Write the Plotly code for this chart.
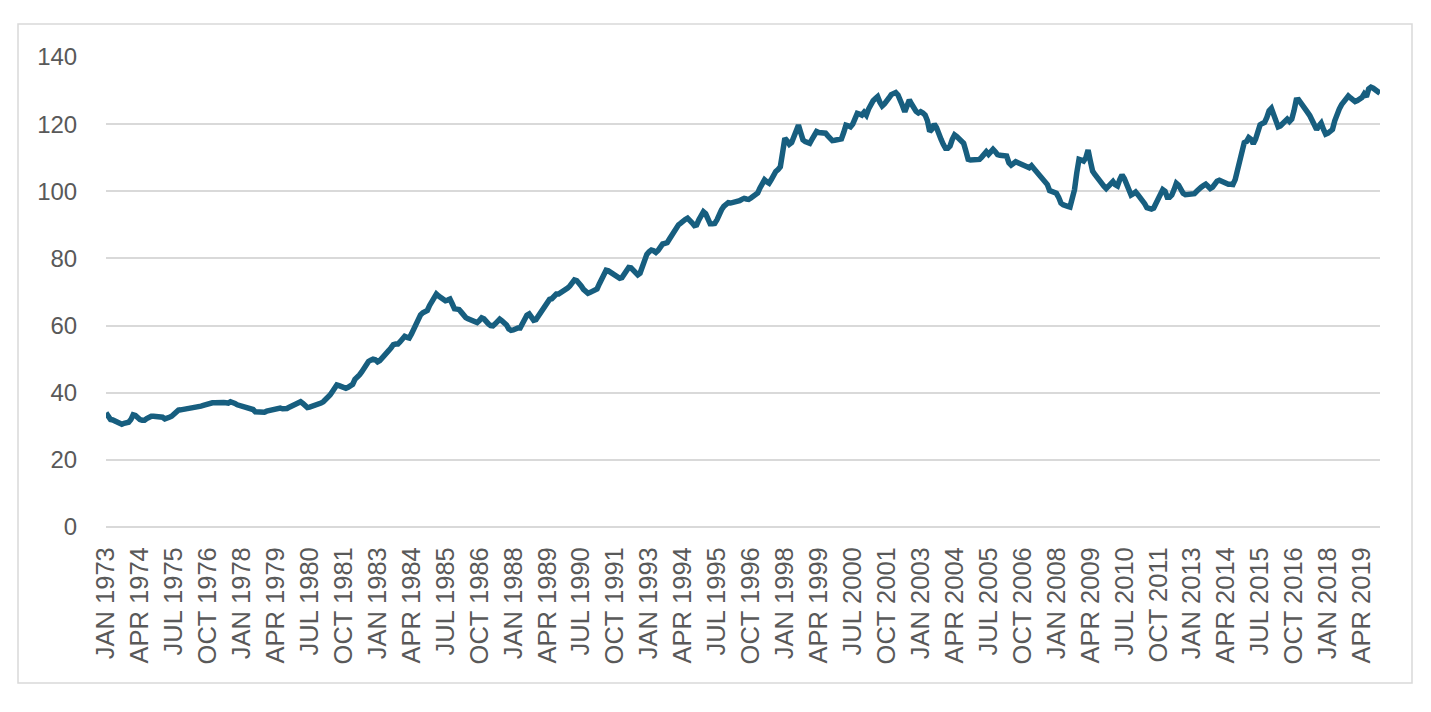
import plotly.graph_objects as go

MONTHS = ["JAN", "FEB", "MAR", "APR", "MAY", "JUN", "JUL", "AUG", "SEP", "OCT", "NOV", "DEC"]
YEARS = list(range(1973, 2020))

# Monthly index values, Jan 1973 - Dec 2019 (one row per year)
values = [
    34.0, 32.8, 32.0, 31.9, 31.6, 31.2, 30.8, 30.6, 30.9, 31.1, 31.2, 32.0,  # 1973
    33.4, 33.2, 32.5, 32.0, 31.8, 31.8, 32.3, 32.9, 33.0, 33.0, 33.0, 33.0,  # 1974
    33.0, 32.7, 32.2, 32.3, 32.7, 33.0, 33.6, 34.3, 34.8, 34.9, 35.0, 35.0,  # 1975
    35.0, 35.1, 35.2, 35.5, 35.7, 35.9, 36.0, 36.2, 36.5, 36.8, 37.0, 37.0,  # 1976
    37.0, 37.1, 37.1, 37.0, 37.1, 37.0, 36.9, 37.3, 37.2, 36.8, 36.4, 36.2,  # 1977
    36.0, 35.9, 35.8, 35.7, 35.6, 35.0, 34.3, 34.2, 34.0, 33.9, 34.2, 34.5,  # 1978
    34.7, 34.9, 35.0, 35.2, 35.4, 35.4, 35.2, 35.1, 35.3, 35.7, 36.0, 36.1,  # 1979
    36.3, 36.8, 37.3, 36.8, 35.9, 35.6, 35.7, 35.9, 36.0, 36.1, 36.5, 36.9,  # 1980
    37.3, 37.8, 38.5, 39.3, 40.3, 41.3, 42.3, 42.1, 41.8, 41.4, 41.3, 41.6,  # 1981
    42.0, 42.5, 44.0, 45.0, 45.3, 46.2, 47.5, 48.8, 49.3, 49.7, 50.0, 49.8,  # 1982
    49.2, 49.6, 50.5, 51.3, 51.9, 52.6, 53.4, 54.3, 54.5, 54.5, 55.2, 56.0,  # 1983
    56.8, 56.5, 56.3, 57.5, 59.2, 60.7, 62.0, 63.2, 63.8, 64.2, 64.5, 66.0,  # 1984
    67.3, 68.5, 69.4, 68.8, 68.3, 67.9, 67.4, 67.6, 67.9, 66.5, 65.0, 64.9,  # 1985
    64.8, 64.0, 62.9, 62.4, 62.0, 61.8, 61.4, 61.0, 60.9, 61.5, 62.3, 62.0,  # 1986
    61.0, 60.5, 60.0, 59.9, 60.5, 61.5, 61.9, 61.4, 61.0, 60.2, 59.0, 58.6,  # 1987
    58.7, 59.2, 59.3, 59.3, 60.5, 62.0, 63.1, 63.5, 62.8, 61.6, 61.8, 62.8,  # 1988
    63.5, 64.3, 65.1, 66.2, 67.8, 68.0, 68.8, 69.4, 69.4, 69.8, 70.1, 70.9,  # 1989
    71.2, 71.8, 72.8, 73.6, 73.4, 72.8, 71.8, 70.8, 70.0, 69.6, 69.9, 70.4,  # 1990
    70.6, 70.9, 72.4, 74.1, 75.5, 76.5, 76.3, 75.8, 75.4, 75.0, 74.5, 74.1,  # 1991
    74.3, 75.3, 76.5, 77.3, 77.2, 76.4, 75.6, 75.1, 75.6, 77.5, 80.0, 81.2,  # 1992
    82.0, 82.5, 82.3, 81.8, 82.4, 83.6, 84.3, 84.5, 84.7, 85.8, 87.0, 87.8,  # 1993
    88.8, 90.0, 90.5, 91.2, 91.6, 92.0, 91.5, 90.6, 89.8, 90.0, 91.5, 93.0,  # 1994
    93.9, 93.3, 92.0, 90.3, 90.3, 90.4, 91.5, 93.4, 94.5, 95.5, 96.3, 96.6,  # 1995
    96.5, 96.6, 96.8, 96.9, 97.2, 97.6, 97.9, 97.7, 97.6, 98.0, 98.5, 98.6,  # 1996
    99.5, 101.0, 102.5, 103.4, 102.8, 102.4, 103.5, 105.2, 105.9, 106.5, 107.3, 111.5,  # 1997
    115.8, 115.0, 114.0, 114.5, 116.3, 118.0, 119.7, 117.5, 115.3, 114.8, 114.4, 114.3,  # 1998
    115.5, 116.8, 117.8, 117.5, 117.3, 117.5, 117.3, 116.5, 115.6, 115.1, 115.2, 115.2,  # 1999
    115.3, 115.6, 117.5, 119.7, 119.5, 119.2, 120.0, 121.8, 123.2, 123.0, 122.7, 123.5,  # 2000
    122.7, 124.5, 126.2, 127.0, 127.6, 128.2, 126.5, 125.4, 126.0, 126.7, 127.8, 128.8,  # 2001
    129.0, 129.4, 128.7, 127.5, 125.5, 123.7, 125.5, 127.2, 126.0, 124.7, 123.8, 123.3,  # 2002
    123.7, 123.3, 122.7, 121.0, 117.8, 118.5, 120.0, 119.0, 116.5, 115.5, 114.0, 112.8,  # 2003
    112.8, 113.5, 115.5, 116.8, 116.3, 115.5, 115.0, 114.3, 112.0, 109.5, 109.3, 109.4,  # 2004
    109.4, 109.3, 109.5, 110.2, 111.0, 111.8, 111.0, 111.5, 112.5, 111.8, 110.9, 110.7,  # 2005
    110.8, 110.6, 110.5, 108.5, 107.8, 108.5, 108.8, 108.5, 108.3, 108.0, 107.6, 107.3,  # 2006
    107.0, 107.6, 106.8, 106.0, 105.0, 104.2, 103.5, 102.9, 102.0, 100.2, 99.8, 99.4,  # 2007
    99.4, 98.2, 96.5, 96.0, 95.6, 95.5, 95.3, 97.5, 100.5, 105.5, 109.5, 109.3,  # 2008
    109.0, 110.0, 112.3, 109.0, 106.0, 105.0, 104.0, 103.4, 102.3, 101.5, 100.8, 101.5,  # 2009
    102.3, 102.9, 102.0, 101.6, 103.5, 104.9, 103.8, 102.4, 100.5, 98.9, 99.3, 99.8,  # 2010
    99.0, 98.2, 97.4, 96.3, 95.1, 94.9, 94.7, 95.0, 96.5, 98.2, 100.0, 100.5,  # 2011
    100.0, 98.2, 98.2, 98.9, 100.5, 102.4, 101.8, 100.5, 99.4, 99.0, 99.1, 99.1,  # 2012
    99.1, 99.3, 100.0, 100.9, 101.2, 101.7, 102.1, 101.5, 100.8, 101.2, 102.3, 103.0,  # 2013
    103.3, 103.0, 102.5, 102.2, 102.1, 102.1, 102.0, 103.5, 106.5, 109.5, 112.5, 114.5,  # 2014
    114.8, 116.0, 115.5, 114.2, 115.5, 118.5, 119.8, 120.2, 120.5, 122.0, 124.0, 124.7,  # 2015
    122.5, 120.5, 119.2, 119.5, 120.2, 120.7, 121.5, 120.8, 121.5, 124.0, 127.2, 127.3,  # 2016
    126.5, 125.5, 124.6, 123.5, 122.5, 121.0, 119.5, 118.4, 119.5, 120.3, 118.5, 117.0,  # 2017
    117.3, 117.8, 118.4, 121.0, 123.2, 124.5, 125.8, 126.6, 127.3, 128.4, 127.8, 127.2,  # 2018
    126.7, 127.0, 127.5, 127.9, 129.0, 128.2, 130.5, 131.0, 130.7, 130.3, 129.8, 129.2,  # 2019
]

categories = [f"{m} {y}" for y in YEARS for m in MONTHS]
tick_labels = categories[::15]

y_ticks = [0, 20, 40, 60, 80, 100, 120, 140]

LINE_COLOR = "#175E7F"
GRID_COLOR = "#D9D9D9"
TEXT_COLOR = "#595959"
FONT = "Liberation Sans, Arial, sans-serif"

fig = go.Figure()
fig.add_trace(go.Scatter(
    x=categories,
    y=values,
    mode="lines",
    line=dict(color=LINE_COLOR, width=5.5),
    hoverinfo="skip",
    showlegend=False,
))

W, H = 1431, 712
L, R, T, B = 106, 51, 57, 185
pw, ph = W - L - R, H - T - B

def px_x(x):
    return (x - L) / pw

def px_y(y):
    return (H - B - y) / ph

fig.add_shape(
    type="rect", xref="paper", yref="paper",
    x0=px_x(18), x1=px_x(1412), y0=px_y(683), y1=px_y(24),
    line=dict(color=GRID_COLOR, width=1.5), fillcolor="rgba(0,0,0,0)",
    layer="below",
)

fig.update_layout(
    width=W, height=H,
    margin=dict(l=L, r=R, t=T, b=B, pad=0),
    paper_bgcolor="white",
    plot_bgcolor="white",
    font=dict(family=FONT, color=TEXT_COLOR, size=25),
    xaxis=dict(
        type="category",
        range=[0, len(categories) - 1],
        tickmode="array",
        tickvals=tick_labels,
        ticktext=tick_labels,
        tickangle=-90,
        showgrid=False,
        zeroline=False,
        showline=False,
        ticks="outside",
        ticklen=9,
        tickcolor="rgba(0,0,0,0)",
        tickfont=dict(family=FONT, color=TEXT_COLOR, size=25.5),
    ),
    yaxis=dict(
        range=[0, 140],
        tickmode="array",
        tickvals=y_ticks,
        showgrid=True,
        gridcolor=GRID_COLOR,
        gridwidth=1.5,
        zeroline=True,
        zerolinecolor=GRID_COLOR,
        zerolinewidth=1.5,
        showline=False,
        ticks="outside",
        ticklen=23,
        tickcolor="rgba(0,0,0,0)",
        tickfont=dict(family=FONT, color=TEXT_COLOR, size=24),
    ),
)

fig.write_html("out.html")
